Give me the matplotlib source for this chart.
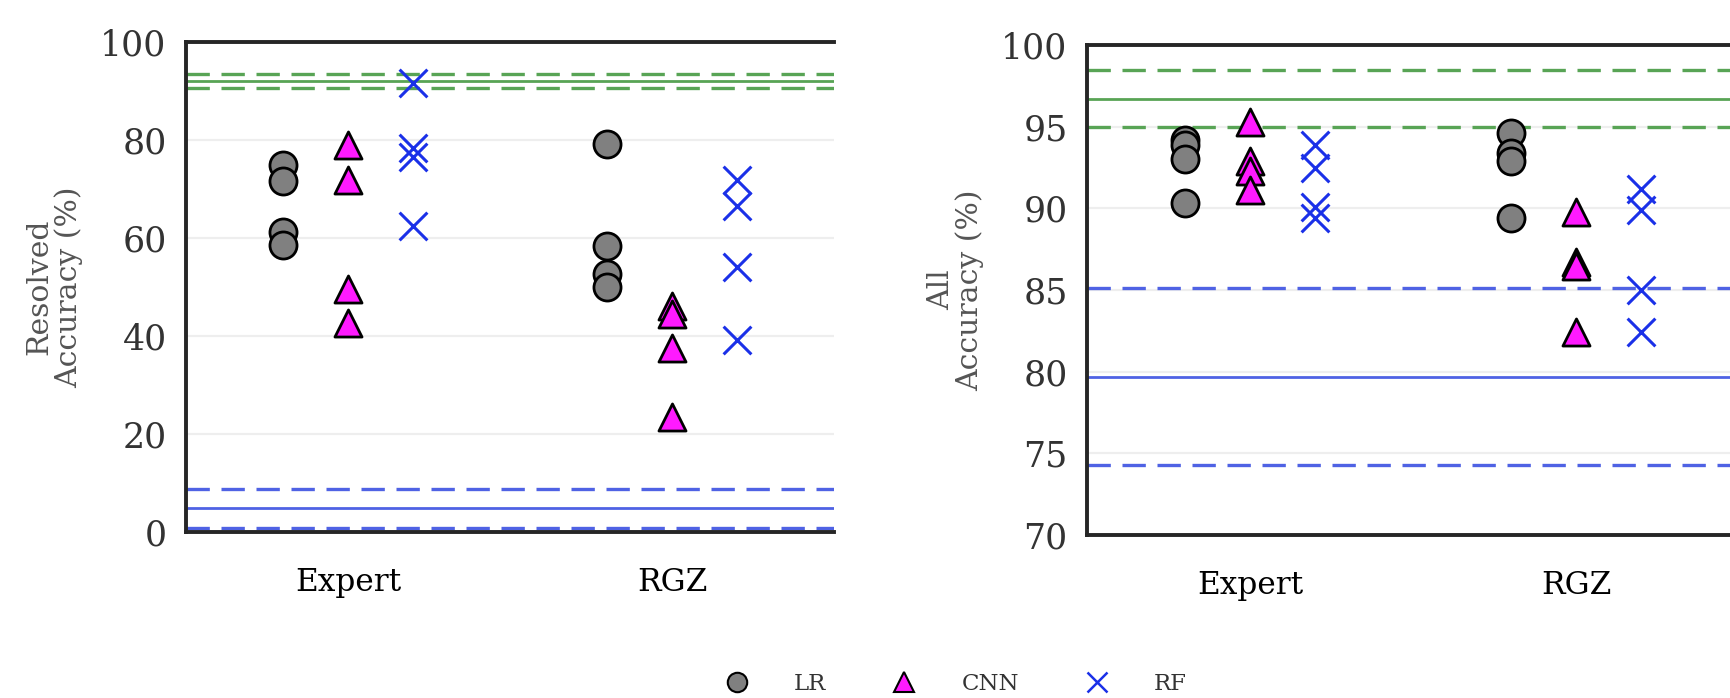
import numpy as np
import matplotlib
matplotlib.use('Agg')
import matplotlib.pyplot as plt
from matplotlib.lines import Line2D

plt.rcParams['font.family'] = 'DejaVu Serif'

groups = ['Expert', 'RGZ']
models = ['LR', 'CNN', 'RF']

# resolved accuracy (%) per model, per group (4 runs each)
res_lr = [[75.0, 71.6, 61.3, 58.6], [79.1, 58.4, 52.7, 50.0]]
res_cnn = [[78.9, 71.9, 49.6, 42.6], [46.1, 44.5, 37.5, 23.4]]
res_rf = [[91.6, 78.3, 76.6, 62.5], [71.9, 66.6, 54.1, 39.1]]
# reference lines: upper (mean, lo, hi) and lower (mean, lo, hi)
res_upper = [92.0, 90.6, 93.4]
res_lower = [4.8, 0.8, 8.75]

# all accuracy (%)
all_lr = [[94.2, 93.9, 93.0, 90.3], [94.6, 93.4, 92.9, 89.4]]
all_cnn = [[95.3, 92.9, 92.3, 91.1], [89.8, 86.7, 86.5, 82.4]]
all_rf = [[93.9, 92.5, 90.1, 89.4], [91.2, 89.9, 85.0, 82.4]]
all_upper = [96.7, 94.96, 98.5]
all_lower = [79.7, 74.3, 85.1]

green = '#58a455'
blue_line = '#4f62e4'
blue_mark = '#1a30e8'
spine_c = '#262626'

fig = plt.figure(figsize=(17.31, 6.98), dpi=100)
ax1 = fig.add_axes([0.1075, 0.2378, 0.3744, 0.702])
ax2 = fig.add_axes([0.628, 0.2335, 0.3767, 0.702])

offsets = [-0.2, 0.0, 0.2]


def draw(ax, lr, cnn, rf, upper, lower, ylim, yticks, ylabel, right_spine):
    for ref, col in [(upper, green), (lower, blue_line)]:
        ax.axhline(ref[0], color=col, lw=2.0, zorder=2)
        ax.axhline(ref[1], color=col, lw=2.4, ls=(0, (7, 3.5)), zorder=2)
        ax.axhline(ref[2], color=col, lw=2.4, ls=(0, (7, 3.5)), zorder=2)
    for gi in range(len(groups)):
        ax.scatter([gi + offsets[0]] * len(lr[gi]), lr[gi], s=380, marker='o',
                   facecolor='#808080', edgecolor='black', linewidth=2.0, zorder=4)
        ax.scatter([gi + offsets[1]] * len(cnn[gi]), cnn[gi], s=380, marker='^',
                   facecolor='#ff1aff', edgecolor='black', linewidth=2.0, zorder=4)
        ax.scatter([gi + offsets[2]] * len(rf[gi]), rf[gi], s=400, marker='x',
                   color=blue_mark, linewidth=2.2, zorder=4)
    ax.set_xlim(-0.5, 1.5)
    ax.set_ylim(*ylim)
    ax.set_yticks(yticks)
    ax.set_xticks(range(len(groups)))
    ax.set_xticklabels(groups)
    ax.tick_params(axis='y', length=0, pad=14, labelsize=25, labelcolor='#333333')
    ax.tick_params(axis='x', length=0, pad=25, labelsize=22.5)
    ax.grid(axis='y', color='#eeeeee', lw=1.6, zorder=0)
    ax.set_axisbelow(True)
    for side in ['left', 'bottom', 'top']:
        ax.spines[side].set_color(spine_c)
        ax.spines[side].set_linewidth(2.8)
    ax.spines['right'].set_visible(right_spine)
    ax.spines['right'].set_color(spine_c)
    ax.spines['right'].set_linewidth(2.8)
    ax.set_ylabel(ylabel, fontsize=21.5, color='#555555', labelpad=12, linespacing=1.05)


draw(ax1, res_lr, res_cnn, res_rf, res_upper, res_lower, (0, 100),
     np.arange(0, 101, 20), 'Resolved\nAccuracy (%)', False)
draw(ax2, all_lr, all_cnn, all_rf, all_upper, all_lower, (70, 100),
     np.arange(70, 101, 5), 'All\nAccuracy (%)', True)

handles = [
    Line2D([], [], marker='o', ls='', markersize=14, markerfacecolor='#808080',
           markeredgecolor='black', markeredgewidth=1.5),
    Line2D([], [], marker='^', ls='', markersize=14, markerfacecolor='#ff1aff',
           markeredgecolor='black', markeredgewidth=1.5),
    Line2D([], [], marker='x', ls='', markersize=14, color=blue_mark,
           markeredgewidth=1.8),
]
leg = fig.legend(handles, models, loc='center', bbox_to_anchor=(0.549, 0.02),
                 ncol=3, frameon=False, fontsize=16.5, handletextpad=1.5,
                 columnspacing=2.4)
for t in leg.get_texts():
    t.set_color('#333333')

fig.savefig('out.png', dpi=100)
